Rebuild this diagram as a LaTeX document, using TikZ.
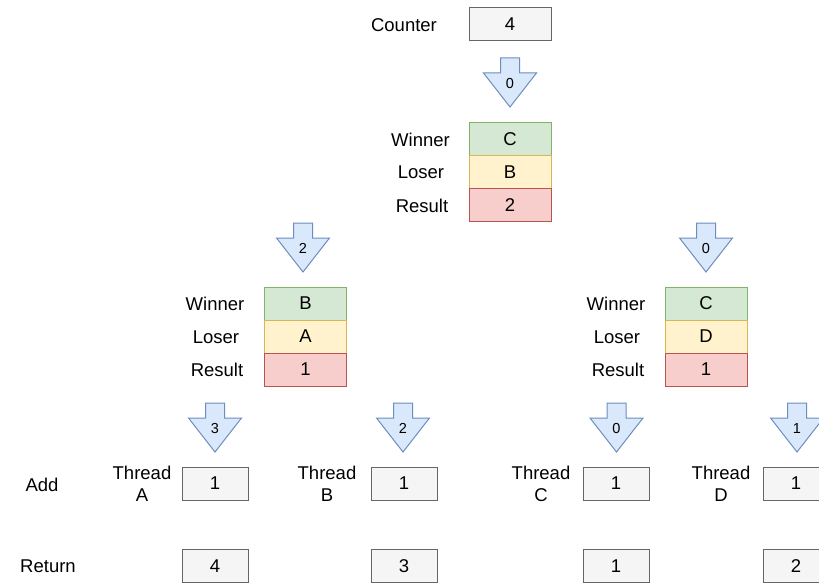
\documentclass[tikz,border=0pt]{standalone}
\usepackage{fontspec}
\setmainfont{Liberation Sans}
\definecolor{grayfill}{HTML}{F5F5F5}
\definecolor{graydraw}{HTML}{666666}
\definecolor{greenfill}{HTML}{D5E8D4}
\definecolor{greendraw}{HTML}{82B366}
\definecolor{yellowfill}{HTML}{FFF2CC}
\definecolor{yellowdraw}{HTML}{D6B656}
\definecolor{redfill}{HTML}{F8CECC}
\definecolor{reddraw}{HTML}{B85450}
\definecolor{bluefill}{HTML}{DAE8FC}
\definecolor{bluedraw}{HTML}{6C8EBF}
\newcommand\flowarrow[4]{%
  \draw[arrowshape] (#2-9.5,#3) -- (#2+9.5,#3) -- (#2+9.5,#3+15) -- (#2+26.5,#3+15)
    -- (#2,#3+49) -- (#2-26.5,#3+15) -- (#2-9.5,#3+15) -- cycle;
  \node[arrowlabel] (#1) at (#2,#3+25.5) {#4};}
\tikzset{
  valbox/.style={draw=graydraw, fill=grayfill, line width=1pt, minimum width=82pt, minimum height=33pt, inner sep=0pt, font=\fontsize{18.5}{22}\selectfont},
  thrbox/.style={valbox, minimum width=66pt},
  winbox/.style={valbox, draw=greendraw, fill=greenfill},
  losbox/.style={valbox, draw=yellowdraw, fill=yellowfill},
  resbox/.style={valbox, draw=reddraw, fill=redfill},
  lbl/.style={font=\fontsize{18.5}{22}\selectfont, inner sep=0pt, align=center},
  arrowshape/.style={draw=bluedraw, fill=bluefill, line width=1pt, line join=miter},
  arrowlabel/.style={font=\fontsize{14.5}{16}\selectfont, inner sep=0pt},
}
\begin{document}
\begin{tikzpicture}[x=1pt,y=-1pt]
\useasboundingbox (0,0) rectangle (819,583);
\clip (0,0) rectangle (819,583);
% counter
\node[valbox] (counter) at (510,24.5) {4};
\node[lbl] (counterlbl) at (404,25) {Counter};
\flowarrow{a0}{510}{58}{0}
% top stack
\node[winbox] (w0) at (510,139) {C};
\node[losbox] (l0) at (510,172) {B};
\node[resbox] (r0) at (510,205) {2};
\node[lbl] (w0l) at (420.5,139.5) {Winner};
\node[lbl] (l0l) at (421,172.5) {Loser};
\node[lbl] (r0l) at (422,205.5) {Result};
% left arrow & stack
\flowarrow{a1}{303}{223}{2}
\node[winbox] (w1) at (305.5,303.5) {B};
\node[losbox] (l1) at (305.5,336.5) {A};
\node[resbox] (r1) at (305.5,369.5) {1};
\node[lbl] (w1l) at (215,304) {Winner};
\node[lbl] (l1l) at (216,337) {Loser};
\node[lbl] (r1l) at (217,370) {Result};
% right arrow & stack
\flowarrow{a2}{706}{223}{0}
\node[winbox] (w2) at (706,303.5) {C};
\node[losbox] (l2) at (706,336.5) {D};
\node[resbox] (r2) at (706,369.5) {1};
\node[lbl] (w2l) at (616,304) {Winner};
\node[lbl] (l2l) at (617,337) {Loser};
\node[lbl] (r2l) at (618,370) {Result};
% bottom arrows
\flowarrow{a3}{215}{403}{3}
\flowarrow{a4}{403}{403}{2}
\flowarrow{a5}{616.5}{403}{0}
\flowarrow{a6}{797}{403}{1}
% row labels
\node[lbl] (addl) at (42,484.5) {Add};
\node[lbl] (retl) at (48,566.5) {Return};
% threads
\node[thrbox] (tA) at (215,483.5) {1};
\node[thrbox] (tB) at (404,483.5) {1};
\node[thrbox] (tC) at (616,483.5) {1};
\node[thrbox] (tD) at (796,483.5) {1};
\node[lbl] (tAl) at (142,484) {Thread\\A};
\node[lbl] (tBl) at (327,484) {Thread\\B};
\node[lbl] (tCl) at (541,484) {Thread\\C};
\node[lbl] (tDl) at (721,484) {Thread\\D};
% returns
\node[thrbox] (rA) at (215,566) {4};
\node[thrbox] (rB) at (404,566) {3};
\node[thrbox] (rC) at (616,566) {1};
\node[thrbox] (rD) at (796,566) {2};
\end{tikzpicture}
\end{document}
